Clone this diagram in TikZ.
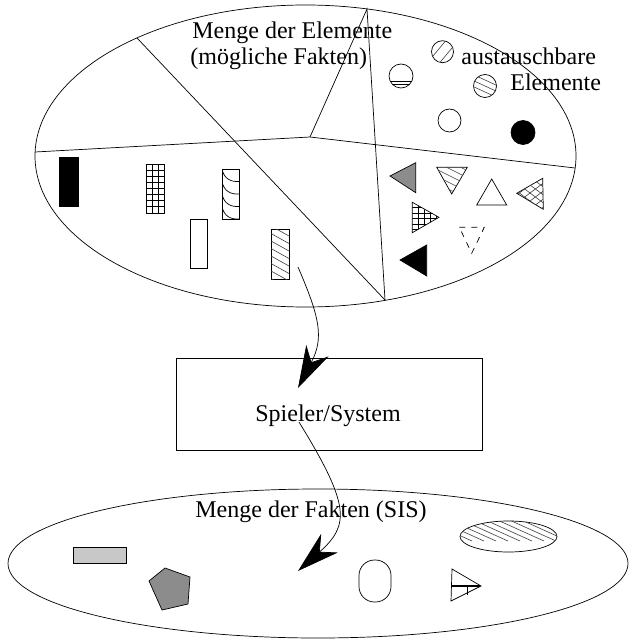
\documentclass[tikz,border=0pt]{standalone}
\usepackage{fontspec}
\setmainfont{Liberation Serif}
\usetikzlibrary{arrows.meta}
\definecolor{midgrey}{HTML}{8C8C8C}
\definecolor{lightgrey}{HTML}{C8C8C8}
\begin{document}
\begin{tikzpicture}[x=1pt,y=-1pt,line width=0.7pt,
  lbl/.style={anchor=base west,inner sep=0pt,font=\fontsize{24}{26}\selectfont},
  fig/.style={draw=black,line width=0.7pt},
  hatchline/.style={line width=0.6pt,draw=black!75},
  gridline/.style={line width=0.9pt,draw=black},
  conn/.style={line width=0.7pt,-{Stealth[length=42pt,width=25pt,inset=13pt]}}]
\useasboundingbox (0,0) rectangle (629,639);

% ---------- top set ----------
\draw[fig] (305.5,156) ellipse [x radius=270.5pt,y radius=151pt];
\coordinate (pA) at (137,38);
\coordinate (pB) at (385,300);
\coordinate (pL) at (35,152);
\coordinate (pM) at (310,137);
\coordinate (pR) at (575,168);
\coordinate (pT) at (367,9);
\draw[fig] (pA) -- (pB);
\draw[fig] (pL) -- (pM) -- (pR);
\draw[fig] (pM) -- (pT) -- (pB);

% rectangles (left region)
\draw[fig,fill=black] (59,157) rectangle (78,206);
\draw[fig] (146,164) rectangle (164,213);
\begin{scope}
  \clip (146,164) rectangle (164,213);
  \foreach \i in {1,2} \draw[gridline] (146+6*\i,164) -- (146+6*\i,213);
  \foreach \i in {1,...,7} \draw[gridline] (146,164+6.1*\i) -- (164,164+6.1*\i);
\end{scope}
\draw[fig] (222,169) rectangle (239,219);
\begin{scope}
  \clip (222,169) rectangle (239,219);
  \foreach \i in {0,...,3}
    \draw[fig] (222,169+12.5*\i) .. controls (224,169+12.5*\i+10) and (231,169+12.5*\i+13) .. (239,169+12.5*\i+12.5);
\end{scope}
\draw[fig] (190,219) rectangle (207,268);
\draw[fig] (271,229) rectangle (289,279);
\begin{scope}
  \clip (271,229) rectangle (289,279);
  \foreach \i in {-2,...,8} \draw[hatchline] (271,226+7.5*\i) -- (289,236+7.5*\i);
\end{scope}

% circles (exchangeable elements)
\draw[fig] (442.5,51.7) circle [radius=11pt];
\begin{scope}
  \clip (442.5,51.7) circle [radius=11pt];
  \draw[hatchline] (428,62) -- (448,38);
  \draw[hatchline] (437,66) -- (457,42);
\end{scope}
\draw[fig] (401,76) circle [radius=12pt];
\begin{scope}
  \clip (401,76) circle [radius=12pt];
  \draw[gridline] (388,81) -- (414,81);
  \draw[gridline] (388,84.5) -- (414,84.5);
\end{scope}
\draw[fig] (485,86) circle [radius=11.5pt];
\begin{scope}
  \clip (485,86) circle [radius=11.5pt];
  \foreach \d in {-6,0,6} \draw[hatchline] (472,86+\d-6) -- (498,86+\d+6);
\end{scope}
\draw[fig] (449.5,120.5) circle [radius=11.5pt];
\draw[fig,fill=black] (523,132.5) circle [radius=12pt];

% triangles
\draw[fig,fill=midgrey] (390,176) -- (415.7,162.7) -- (415.7,192.7) -- cycle;
\draw[fig] (436.7,167.3) -- (467.3,167.3) -- (451.7,194) -- cycle;
\begin{scope}
  \clip (436.7,167.3) -- (467.3,167.3) -- (451.7,194) -- cycle;
  \foreach \i in {-2,...,4} \draw[hatchline] (436,162+7*\i) -- (468,178+7*\i);
\end{scope}
\draw[fig] (476.7,205) -- (506.7,205) -- (491.7,179) -- cycle;
\draw[fig] (516.7,193.3) -- (542.7,178.3) -- (543.3,209.3) -- cycle;
\begin{scope}
  \clip (516.7,193.3) -- (542.7,178.3) -- (543.3,209.3) -- cycle;
  \foreach \i in {-4,...,4} {
    \draw[hatchline] (510,170+8*\i) -- (550,200+8*\i);
    \draw[hatchline] (510,200+8*\i) -- (550,170+8*\i);
  }
\end{scope}
\draw[fig] (412.3,202.3) -- (412.3,232.7) -- (439,217.3) -- cycle;
\begin{scope}
  \clip (412.3,202.3) -- (412.3,232.7) -- (439,217.3) -- cycle;
  \foreach \i in {1,...,4} \draw[gridline] (412.3+6*\i,200) -- (412.3+6*\i,235);
  \foreach \i in {1,...,5} \draw[gridline] (410,202.3+5.5*\i) -- (440,202.3+5.5*\i);
\end{scope}
\draw[fig,dash pattern=on 6pt off 6pt] (459.3,227.3) -- (484.3,227.3) -- (471.7,253.3) -- cycle;
\draw[fig,fill=black] (400,260) -- (426.7,245) -- (426.7,276) -- cycle;

\node[lbl] (title1) at (192,39) {Menge der Elemente};
\node[lbl] (title2) at (190,65) {(mögliche Fakten)};
\node[lbl] (ex1) at (461,65) {austauschbare};
\node[lbl] (ex2) at (510,90.5) {Elemente};

% ---------- player / system ----------
\node[draw,line width=0.7pt,minimum width=306pt,minimum height=92pt,inner sep=0pt] (sys) at (329,404) {};
\node[lbl] (syslbl) at (255,421) {Spieler/System};

% ---------- bottom set ----------
\draw[fig] (318,563.5) ellipse [x radius=310pt,y radius=74.5pt];
\node[lbl] (facts) at (195,517) {Menge der Fakten (SIS)};
\draw[fig,fill=lightgrey] (73.5,547) rectangle (126,563);
\draw[fig,fill=midgrey] (149,581) -- (165,568) -- (190,577) -- (188,604) -- (162,610) -- cycle;
\draw[fig,rounded corners=15.5pt] (359,560) rectangle (391,602);
\draw[fig] (452,569) -- (481,586) -- (451,601) -- cycle;
\draw[gridline,line width=1.2pt] (451.5,586) -- (480,586);
\draw[gridline] (467,586) -- (467,595);
\draw[fig] (508.5,536.5) ellipse [x radius=48.5pt,y radius=15.5pt];
\begin{scope}
  \clip (508.5,536.5) ellipse [x radius=48.5pt,y radius=15.5pt];
  \foreach \i in {-6,...,7} \draw[hatchline] (440+12*\i,505) -- (520+12*\i,541);
\end{scope}

% ---------- connectors ----------
\coordinate (a1s) at (298,267);
\coordinate (a1e) at (298,388);
\draw[conn] (a1s) .. controls (320,318) and (324,338) .. (a1e);
\coordinate (a2s) at (299,422);
\coordinate (a2e) at (298,571);
\draw[conn] (a2s) .. controls (350,505) and (350,525) .. (a2e);
\end{tikzpicture}
\end{document}
